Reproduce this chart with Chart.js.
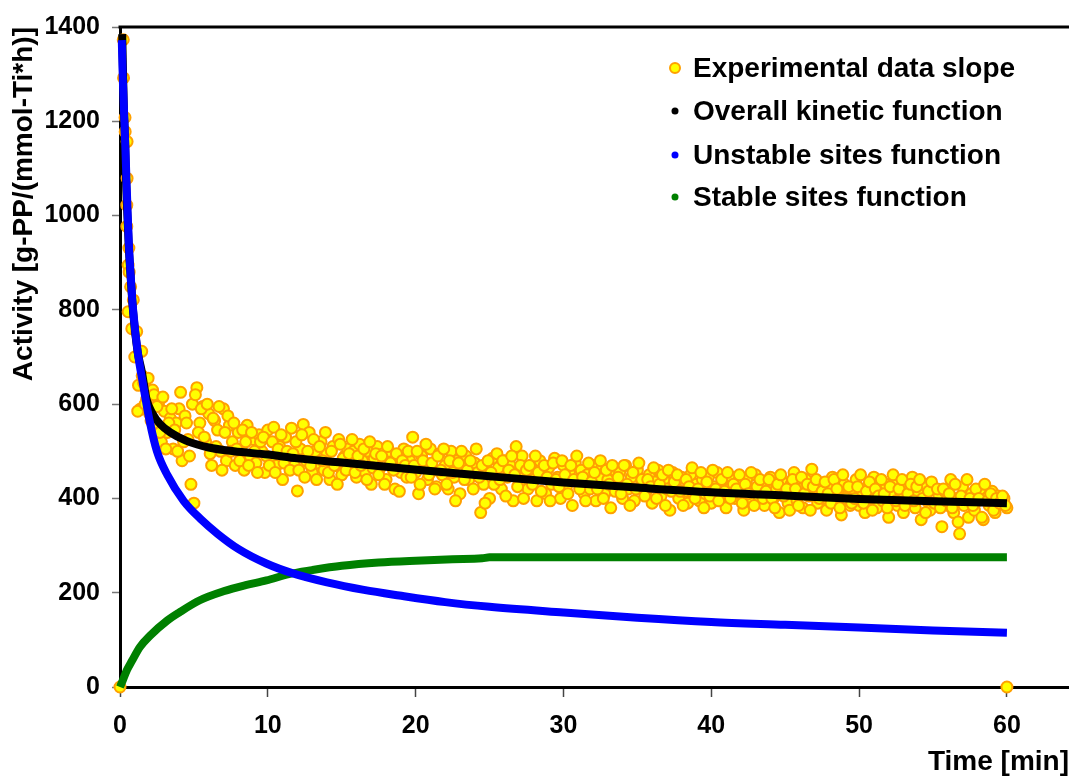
<!DOCTYPE html>
<html>
<head>
<meta charset="utf-8">
<script src="https://cdn.jsdelivr.net/npm/chart.js@4"></script>
<style>
  html, body { margin: 0; padding: 0; background: #fff; }
  #wrap { width: 1069px; height: 779px; position: relative; }
</style>
</head>
<body>
<div id="wrap"><canvas id="myChart"></canvas></div>
<script>
// ticks
const xTicks = [0, 10, 20, 30, 40, 50, 60];
const yTicks = [0, 200, 400, 600, 800, 1000, 1200, 1400];

const expEarlyTime = [0, 0.22, 0.24, 0.34, 0.35, 0.48, 0.48, 0.46, 0.46, 0.6, 0.55, 0.62, 0.72, 0.9, 0.55, 0.8, 1.13, 1.0, 1.47, 1.35, 1.25, 1.5, 1.2];
const expEarlyActivity = [0, 1373, 1292, 1208, 1178, 1157, 1079, 1022, 977, 931, 895, 880, 849, 821, 796, 760, 754, 700, 712, 589, 640, 660, 585];

// rest of the run: readings every 0.2 min from 1.6 min ...
const expStart = 1.6;
const expStep = 0.2;
const expActivity = [
  645, 610, 580, 630, 560, 600, 520, 585, 540, 570,
  505, 560, 590, 480, 575, 525, 430, 390, 635, 560,
  595, 520, 580, 470, 565, 545, 500, 590, 480, 555,
  520, 470, 540, 505, 460, 555, 490, 525, 475, 535,
  500, 455, 545, 480, 551, 470, 510, 440, 530, 490,
  549, 470, 416, 505, 557, 480, 540, 455, 500, 475,
  520, 460, 495, 440, 510, 470, 525, 450, 490, 505,
  470, 500, 445, 515, 480, 455, 500, 430, 485, 510,
  465, 495, 440, 500, 470, 420, 485, 455, 505, 445,
  480, 530, 455, 410, 490, 470, 440, 505, 460, 425,
  495, 450, 470, 420, 500, 445, 480, 410, 465, 490,
  440, 465, 475, 455, 370, 430, 460, 400, 485, 445,
  465, 420, 480, 445, 470, 395, 510, 430, 490, 450,
  420, 470, 440, 395, 480, 455, 410, 465, 430, 485,
  445, 400, 470, 425, 455, 385, 475, 435, 460, 410,
  450, 420, 470, 395, 445, 465, 410, 440, 380, 460,
  430, 455, 400, 470, 420, 445, 395, 460, 425, 440,
  415, 450, 390, 435, 460, 405, 440, 420, 375, 455,
  425, 400, 445, 415, 390, 450, 410, 430, 395, 440,
  410, 445, 390, 425, 455, 400, 430, 380, 420, 445,
  400, 435, 410, 375, 440, 420, 395, 450, 405, 430,
  385, 425, 445, 400, 420, 370, 435, 410, 390, 430,
  455, 395, 420, 380, 440, 405, 462, 415, 390, 430,
  400, 375, 425, 445, 395, 410, 365, 430, 405, 385,
  420, 440, 385, 410, 370, 425, 400, 445, 380, 415,
  395, 430, 360, 410, 440, 385, 415, 370, 425, 400,
  445, 380, 410, 355, 430, 395, 375, 420, 390, 405,
  340, 415, 385, 440, 370, 400, 325, 425, 390, 360,
  410, 375, 395, 420, 355, 400, 385, 415, 370, 405,
  390, 400, 380
];
// ... and the readings in between (from 1.7 min)
const expStartB = 1.7;
const expActivityB = [
  600, 655, 565, 620, 595, 540, 615, 505, 560, 590,
  545, 500, 625, 520, 560, 490, 600, 620, 540, 590,
  530, 600, 495, 570, 510, 595, 460, 540, 575, 500,
  560, 505, 480, 545, 520, 470, 540, 500, 455, 520,
  530, 490, 470, 520, 455, 505, 535, 475, 500, 460,
  495, 520, 460, 535, 445, 500, 470, 525, 440, 510,
  480, 540, 455, 500, 470, 430, 515, 485, 460, 495,
  525, 455, 490, 470, 505, 440, 520, 465, 495, 450,
  490, 430, 510, 475, 460, 495, 415, 480, 470, 500,
  445, 470, 500, 430, 480, 515, 450, 475, 420, 490,
  460, 505, 430, 480, 455, 395, 475, 500, 440, 460,
  480, 420, 505, 445, 470, 390, 480, 455, 430, 495,
  440, 480, 405, 460, 490, 450, 425, 470, 400, 460,
  470, 430, 490, 455, 415, 470, 445, 395, 475, 440,
  425, 480, 450, 410, 470, 440, 490, 420, 445, 395,
  475, 435, 455, 420, 480, 400, 460, 430, 470, 415,
  445, 410, 470, 430, 385, 455, 420, 475, 440, 405,
  440, 425, 465, 400, 430, 450, 385, 460, 415, 435,
  450, 415, 385, 440, 425, 465, 400, 420, 455, 380,
  435, 405, 460, 420, 395, 440, 415, 455, 400, 430,
  420, 450, 390, 430, 410, 455, 385, 425, 440, 400,
  415, 440, 400, 380, 430, 450, 405, 420, 375, 440,
  420, 385, 445, 410, 430, 375, 425, 440, 400, 415,
  435, 410, 390, 440, 420, 380, 450, 400, 425, 390,
  400, 425, 450, 390, 415, 435, 375, 420, 405, 440,
  410, 380, 425, 450, 395, 420, 440, 385, 410, 430,
  395, 425, 440, 400, 370, 415, 435, 390, 420, 380,
  420, 395, 410, 380, 430, 350, 405, 385, 440, 400,
  385, 420, 400, 360, 430, 395, 410, 375, 400, 390,
  405, 385
];
const expEndTime = [60];
const expEndActivity = [0];

// overall kinetic function
const overallTime = [0.15, 0.25, 0.35, 0.42, 0.5, 0.6, 0.7, 0.85, 1.0, 1.2, 1.47, 1.8, 2.2, 2.7, 3.4, 4.5, 6, 7.7, 10, 12, 15, 18, 21, 25, 30, 35, 40, 45, 50, 55, 60];
const overallActivity = [1385, 1240, 1150, 1064, 1000, 930, 880, 810, 760, 710, 670, 610, 580, 558, 540, 522, 508, 500, 493, 485, 476, 467, 458, 447, 434, 423, 413, 406, 399, 394, 390];

// unstable sites function
const unstableTime = [0.12, 0.2, 0.3, 0.4, 0.5, 0.6, 0.75, 0.9, 1.2, 1.56, 2.0, 2.5, 3.2, 4.3, 5.5, 6.6, 8, 9.9, 11.7, 14, 16.5, 18.9, 22, 25, 30, 35, 40, 45, 50, 55, 60];
const unstableActivity = [1372, 1280, 1200, 1110, 1020, 940, 860, 795, 710, 642, 565, 500, 450, 395, 355, 325, 293, 262, 241, 222, 206, 194, 180, 170, 158, 147, 138, 132, 126, 120, 115];

// stable sites function
const stableTime = [0, 0.2, 0.47, 0.8, 1.35, 2, 3.2, 4, 5.4, 7, 8.5, 9.9, 11.5, 13, 15, 17.5, 20, 22.5, 24.5, 25, 60];
const stableActivity = [0, 15, 36, 55, 85, 108, 141, 158, 184, 203, 216, 226, 240, 248, 257, 264, 268, 271, 273, 275, 275];

const FONT = '"Liberation Sans", Arial, sans-serif';

const toPts = (xs, ys) => xs.map((t, i) => ({ x: t, y: ys[i] }));
const expPoints = toPts(expEarlyTime, expEarlyActivity)
  .concat(expActivity.map((v, i) => ({ x: expStart + i * expStep, y: v })))
  .concat(expActivityB.map((v, i) => ({ x: expStartB + i * expStep, y: v })))
  .concat(toPts(expEndTime, expEndActivity));

const curve = (label, xs, ys, color, order) => ({
  label: label,
  data: toPts(xs, ys),
  showLine: true,
  borderColor: color,
  backgroundColor: color,
  borderWidth: 8,
  pointRadius: 0,
  cubicInterpolationMode: 'monotone',
  clip: false,
  order: order,
  legendRadius: 3.5
});

// frame line on top + legend drawn at the top right
const framePlugin = {
  id: 'frame',
  afterDraw(chart) {
    const ctx = chart.ctx;
    const a = chart.chartArea;
    ctx.save();
    ctx.strokeStyle = '#000';
    ctx.lineWidth = 3;
    ctx.beginPath();
    ctx.moveTo(a.left - 1.5, a.top);
    ctx.lineTo(chart.width, a.top);
    ctx.stroke();

    const rows = [68, 111, 155, 197];
    ctx.font = 'bold 28px ' + FONT;
    ctx.textBaseline = 'middle';
    ctx.textAlign = 'left';
    chart.data.datasets.forEach((ds, i) => {
      const y = rows[i];
      ctx.beginPath();
      ctx.arc(675, y, ds.legendRadius, 0, Math.PI * 2);
      ctx.fillStyle = ds.backgroundColor;
      ctx.fill();
      if (ds.pointBorderColor) {
        ctx.lineWidth = 2;
        ctx.strokeStyle = ds.pointBorderColor;
        ctx.stroke();
      }
      ctx.fillStyle = '#000';
      ctx.fillText(ds.label, 693, y + 1);
    });
    ctx.restore();
  }
};

new Chart(document.getElementById('myChart'), {
  type: 'scatter',
  data: {
    datasets: [
      {
        label: 'Experimental data slope',
        data: expPoints,
        backgroundColor: '#FFFF00',
        pointBorderColor: '#FFA000',
        borderColor: '#FFA000',
        pointBorderWidth: 2,
        pointRadius: 5.5,
        clip: false,
        order: 4,
        legendRadius: 5
      },
      curve('Overall kinetic function', overallTime, overallActivity, '#000000', 2),
      curve('Unstable sites function', unstableTime, unstableActivity, '#0000FF', 1),
      curve('Stable sites function', stableTime, stableActivity, '#008000', 3)
    ]
  },
  options: {
    responsive: true,
    maintainAspectRatio: false,
    animation: false,
    devicePixelRatio: 1,
    layout: { autoPadding: false, padding: { top: 24, right: 0, left: 0, bottom: 0 } },
    plugins: {
      legend: { display: false },
      tooltip: { enabled: false }
    },
    scales: {
      x: {
        type: 'linear',
        min: 0,
        max: 64.2,
        afterBuildTicks: (s) => { s.ticks = xTicks.map(v => ({ value: v })); },
        afterFit: (s) => { s.height = 92; s.paddingRight = 0; s.paddingLeft = 0; },
        grid: { drawOnChartArea: false, tickLength: 10, color: '#444', tickWidth: 1.5 },
        border: { color: '#000', width: 3 },
        ticks: { color: '#000', padding: 14, font: { family: FONT, size: 25, weight: 'bold' },
                 callback: (v) => String(v) },
        title: { display: true, text: 'Time [min]', align: 'end', color: '#000', padding: 0,
                 font: { family: FONT, size: 28, weight: 'bold' } }
      },
      y: {
        min: 0,
        max: 1400,
        afterBuildTicks: (s) => { s.ticks = yTicks.map(v => ({ value: v })); },
        afterFit: (s) => { s.width = 120; },
        grid: { drawOnChartArea: false, tickLength: 8, color: '#777', tickWidth: 1.5 },
        border: { color: '#000', width: 3 },
        ticks: { color: '#000', padding: 12, font: { family: FONT, size: 25, weight: 'bold' },
                 callback: (v) => String(v) },
        title: { display: true, text: 'Activity [g-PP/(mmol-Ti*h)]', align: 'end', color: '#000',
                 padding: { top: 7, bottom: 0 }, font: { family: FONT, size: 28, weight: 'bold' } }
      }
    }
  },
  plugins: [framePlugin]
});
</script>
</body>
</html>
